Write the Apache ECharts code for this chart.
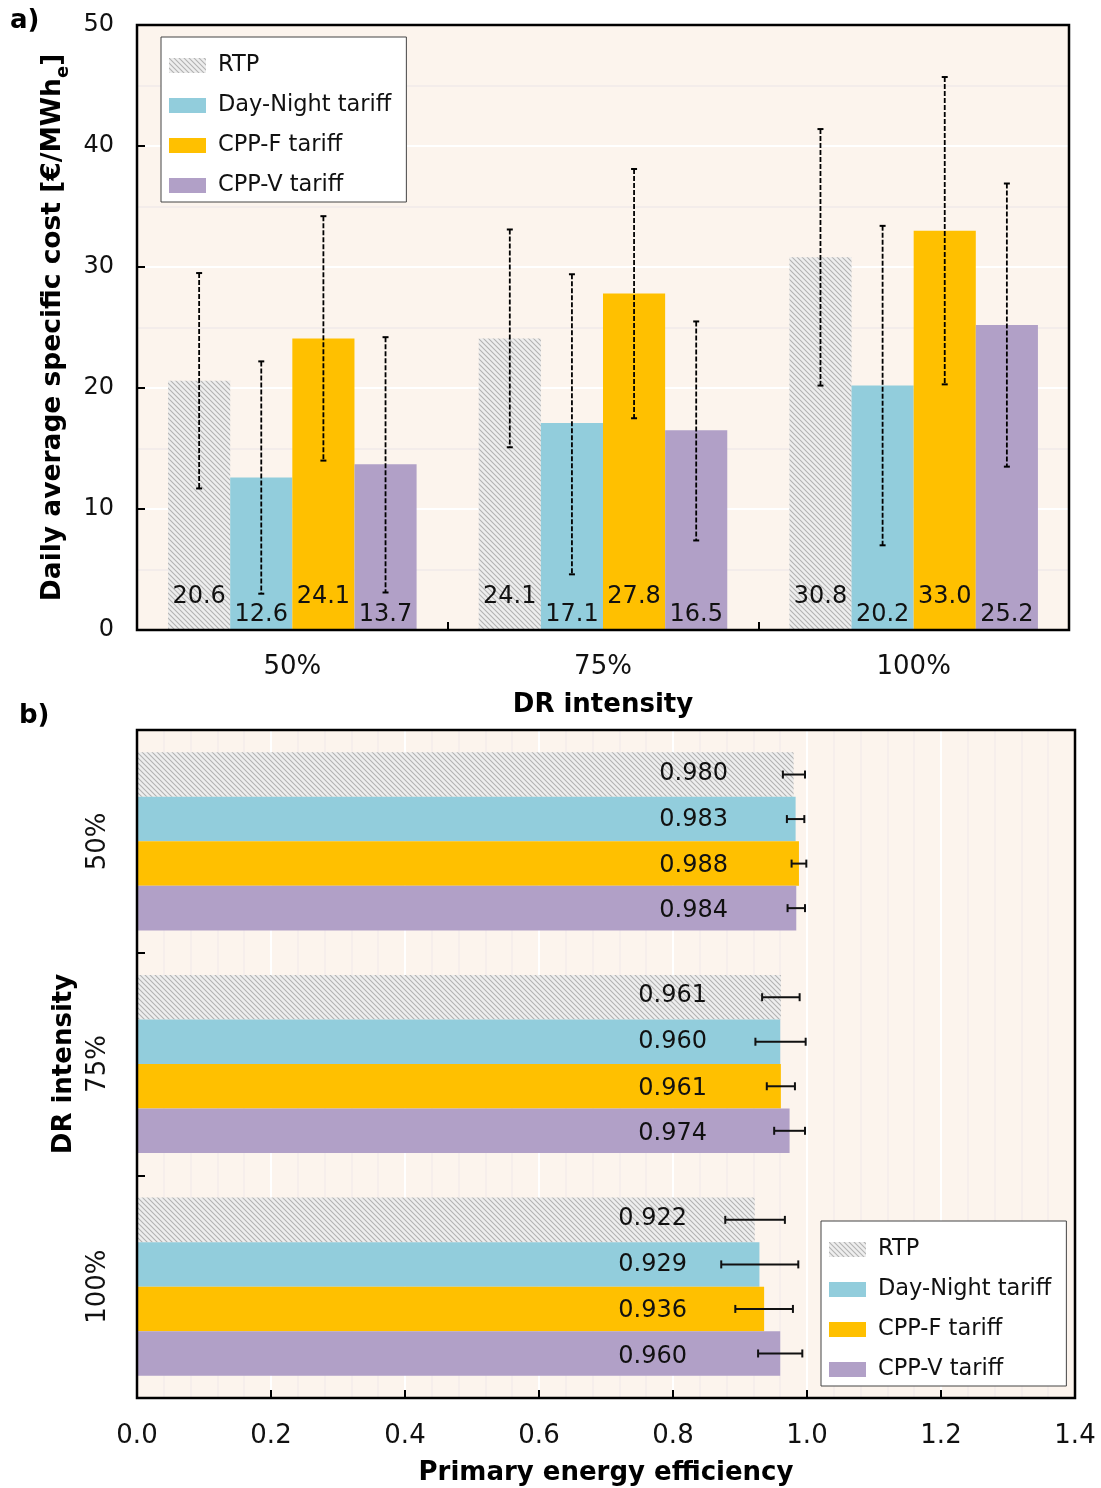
<!DOCTYPE html>
<html>
<head>
<meta charset="utf-8">
<script src="https://cdn.jsdelivr.net/npm/echarts@6/dist/echarts.min.js"></script>
<style>
html, body { margin: 0; padding: 0; background: #ffffff; }
#chart { width: 1101px; height: 1488px; }
</style>
</head>
<body>
<div id="chart"></div>
<script>
// ---- data ----
const tariffs = ['RTP', 'Day-Night tariff', 'CPP-F tariff', 'CPP-V tariff'];
const drLevels = ['50%', '75%', '100%'];

// a) daily average specific cost [€/MWh_e]
const costRTP  = [20.6, 24.1, 30.8];
const costDN   = [12.6, 17.1, 20.2];
const costCPPF = [24.1, 27.8, 33.0];
const costCPPV = [13.7, 16.5, 25.2];
const costLowRTP  = [11.7, 15.1, 20.2];
const costHighRTP = [29.5, 33.1, 41.4];
const costLowDN   = [3.0, 4.6, 7.0];
const costHighDN  = [22.2, 29.4, 33.4];
const costLowCPPF  = [14.0, 17.5, 20.3];
const costHighCPPF = [34.2, 38.1, 45.7];
const costLowCPPV  = [3.1, 7.4, 13.5];
const costHighCPPV = [24.2, 25.5, 36.9];
const costTicks = [0, 10, 20, 30, 40, 50];

// b) primary energy efficiency
const effRTP  = [0.980, 0.961, 0.922];
const effDN   = [0.983, 0.960, 0.929];
const effCPPF = [0.988, 0.961, 0.936];
const effCPPV = [0.984, 0.974, 0.960];
const effLowRTP  = [0.964, 0.933, 0.878];
const effHighRTP = [0.997, 0.989, 0.967];
const effLowDN   = [0.970, 0.923, 0.872];
const effHighDN  = [0.996, 0.998, 0.987];
const effLowCPPF  = [0.977, 0.940, 0.893];
const effHighCPPF = [0.999, 0.982, 0.979];
const effLowCPPV  = [0.971, 0.951, 0.927];
const effHighCPPV = [0.997, 0.997, 0.993];
const effTicks = [0.0, 0.2, 0.4, 0.6, 0.8, 1.0, 1.2, 1.4];

// ---- layout & style ----
const FONT = 'DejaVu Sans';
const PLOT_BG = '#fcf4ed';
const GAP = 0.2;                       // share of a category band left empty
const PANEL_A = { x0: 137, y0: 25, x1: 1069, y1: 630 };
const PANEL_B = { x0: 137, y0: 730, x1: 1075, y1: 1398 };
// right edge of the value labels inside panel b, per DR level (px from bar base)
const EFF_LABEL_RIGHT = [591, 570, 550];
// vertical nudge of the value labels inside panel b, per tariff
const EFF_LABEL_NUDGE = [-1, 0.5, 2, 3];
// bottom distance of the value labels in panel a, per tariff
const COST_LABEL_LIFT = [21, 3, 21, 3];

function hatchPattern() {
  const c = document.createElement('canvas');
  c.width = 5; c.height = 5;
  const g = c.getContext('2d');
  g.fillStyle = '#eeeeee';
  g.fillRect(0, 0, 5, 5);
  g.strokeStyle = '#b2b2b2';
  g.lineWidth = 1.1;
  g.beginPath();
  g.moveTo(-1, -1); g.lineTo(6, 6);
  g.moveTo(-1, 4); g.lineTo(1, 6);
  g.moveTo(4, -1); g.lineTo(6, 1);
  g.stroke();
  return { image: c, repeat: 'repeat' };
}
const COLORS = [hatchPattern(), '#92cddc', '#ffc000', '#b1a0c7'];

const costVals = [costRTP, costDN, costCPPF, costCPPV];
const costLows = [costLowRTP, costLowDN, costLowCPPF, costLowCPPV];
const costHighs = [costHighRTP, costHighDN, costHighCPPF, costHighCPPV];
const effVals = [effRTP, effDN, effCPPF, effCPPV];
const effLows = [effLowRTP, effLowDN, effLowCPPF, effLowCPPV];
const effHighs = [effHighRTP, effHighDN, effHighCPPF, effHighCPPV];

function gridOf(p) {
  return { left: p.x0, top: p.y0, width: p.x1 - p.x0, height: p.y1 - p.y0,
           show: true, backgroundColor: PLOT_BG, borderWidth: 0, containLabel: false };
}

// vertical dashed error bar for tariff k in panel a
function costErrorBar(k) {
  return function (params, api) {
    const cat = api.value(0);
    const lo = api.coord([cat, api.value(1)]);
    const hi = api.coord([cat, api.value(2)]);
    const band = api.size([1, 0])[0];
    const bw = band * (1 - GAP) / 4;
    const x = lo[0] - band * (1 - GAP) / 2 + bw * (k + 0.5);
    const cap = 3;
    return {
      type: 'group',
      children: [
        { type: 'line', shape: { x1: x, y1: hi[1], x2: x, y2: lo[1] },
          style: { stroke: '#000', lineWidth: 1.8, lineDash: [5, 2] } },
        { type: 'line', shape: { x1: x - cap, y1: hi[1], x2: x + cap, y2: hi[1] },
          style: { stroke: '#000', lineWidth: 2 } },
        { type: 'line', shape: { x1: x - cap, y1: lo[1], x2: x + cap, y2: lo[1] },
          style: { stroke: '#000', lineWidth: 2 } }
      ]
    };
  };
}

// horizontal error bar for tariff k in panel b
function effErrorBar(k) {
  return function (params, api) {
    const cat = api.value(0);
    const lo = api.coord([api.value(1), cat]);
    const hi = api.coord([api.value(2), cat]);
    const band = api.size([0, 1])[1];
    const bh = band * (1 - GAP) / 4;
    const y = lo[1] - band * (1 - GAP) / 2 + bh * (k + 0.5);
    const cap = 4;
    return {
      type: 'group',
      children: [
        { type: 'line', shape: { x1: lo[0], y1: y, x2: hi[0], y2: y },
          style: { stroke: '#111', lineWidth: 2 } },
        { type: 'line', shape: { x1: lo[0], y1: y - cap, x2: lo[0], y2: y + cap },
          style: { stroke: '#111', lineWidth: 2 } },
        { type: 'line', shape: { x1: hi[0], y1: y - cap, x2: hi[0], y2: y + cap },
          style: { stroke: '#111', lineWidth: 2 } }
      ]
    };
  };
}

const series = [];
tariffs.forEach(function (name, k) {
  series.push({
    name: name, type: 'bar', xAxisIndex: 0, yAxisIndex: 0,
    barGap: 0, barCategoryGap: (GAP * 100) + '%',
    itemStyle: { color: COLORS[k] },
    label: { show: true, position: 'insideBottom', distance: COST_LABEL_LIFT[k],
             formatter: function (p) { return p.value.toFixed(1); },
             fontFamily: FONT, fontSize: 24, color: '#111' },
    data: costVals[k]
  });
});
tariffs.forEach(function (name, k) {
  series.push({
    name: name, type: 'custom', xAxisIndex: 0, yAxisIndex: 0, z: 5,
    renderItem: costErrorBar(k), silent: true,
    encode: { x: 0, y: [1, 2] },
    data: drLevels.map(function (_, i) { return [i, costLows[k][i], costHighs[k][i]]; })
  });
});
tariffs.forEach(function (name, k) {
  series.push({
    name: name, type: 'bar', xAxisIndex: 1, yAxisIndex: 1,
    barGap: 0, barCategoryGap: (GAP * 100) + '%',
    itemStyle: { color: COLORS[k] },
    data: effVals[k].map(function (v, i) {
      return { value: v, label: { position: [EFF_LABEL_RIGHT[i], '50%'] } };
    }),
    label: { show: true, align: 'right', verticalAlign: 'middle', offset: [0, EFF_LABEL_NUDGE[k]],
             formatter: function (p) { return p.value.toFixed(3); },
             fontFamily: FONT, fontSize: 24, color: '#111' }
  });
});
tariffs.forEach(function (name, k) {
  series.push({
    name: name, type: 'custom', xAxisIndex: 1, yAxisIndex: 1, z: 5,
    renderItem: effErrorBar(k), silent: true,
    encode: { y: 0, x: [1, 2] },
    data: drLevels.map(function (_, i) { return [i, effLows[k][i], effHighs[k][i]]; })
  });
});

function legendAt(left, top) {
  return {
    left: left, top: top, orient: 'vertical',
    data: tariffs.map(function (n) { return { name: n, icon: 'rect' }; }),
    itemWidth: 37, itemHeight: 15, itemGap: 17,
    padding: [17, 15, 5, 8],
    backgroundColor: '#ffffff', borderColor: '#444', borderWidth: 1, borderRadius: 0,
    selectedMode: false,
    textStyle: { fontFamily: FONT, fontSize: 22.5, color: '#111', padding: [0, 0, 0, 7] }
  };
}

function frame(p) {
  return { type: 'rect', z: 100, silent: true,
           shape: { x: p.x0, y: p.y0, width: p.x1 - p.x0, height: p.y1 - p.y0 },
           style: { fill: 'none', stroke: '#000', lineWidth: 2.5 } };
}

const axisLabelStyle = { fontFamily: FONT, fontSize: 24, color: '#111' };
const catLabelStyle = { fontFamily: FONT, fontSize: 26, color: '#111' };
const axisNameStyle = { fontFamily: FONT, fontSize: 26, fontWeight: 'bold', color: '#000' };
const tickStyle = { show: true, inside: true, length: 8, lineStyle: { color: '#000', width: 2 } };

const option = {
  animation: false,
  backgroundColor: '#ffffff',
  textStyle: { fontFamily: FONT },
  grid: [gridOf(PANEL_A), gridOf(PANEL_B)],
  legend: [legendAt(161, 37), legendAt(821, 1221)],
  xAxis: [
    {
      type: 'category', gridIndex: 0, data: drLevels,
      axisLine: { show: true, lineStyle: { color: '#000', width: 2 } },
      axisTick: tickStyle,
      axisLabel: Object.assign({ margin: 24 }, catLabelStyle),
      splitLine: { show: false },
      name: 'DR intensity', nameLocation: 'middle', nameGap: 62, nameTextStyle: axisNameStyle
    },
    {
      type: 'value', gridIndex: 1,
      min: effTicks[0], max: effTicks[effTicks.length - 1], interval: 0.2,
      axisLine: { show: true, lineStyle: { color: '#000', width: 2 } },
      axisTick: tickStyle,
      axisLabel: Object.assign({ margin: 25, formatter: function (v) { return v.toFixed(1); } }, catLabelStyle),
      splitLine: { show: true, lineStyle: { color: '#ffffff', width: 2 } },
      minorTick: { show: false, splitNumber: 5 },
      minorSplitLine: { show: true, lineStyle: { color: '#f3ecea', width: 1.5 } },
      name: 'Primary energy efficiency', nameLocation: 'middle', nameGap: 62, nameTextStyle: axisNameStyle
    }
  ],
  yAxis: [
    {
      type: 'value', gridIndex: 0,
      min: costTicks[0], max: costTicks[costTicks.length - 1], interval: 10,
      axisLine: { show: true, lineStyle: { color: '#000', width: 2 } },
      axisTick: tickStyle,
      axisLabel: Object.assign({ margin: 23 }, axisLabelStyle),
      splitLine: { show: true, lineStyle: { color: '#ffffff', width: 2 } },
      minorTick: { show: false, splitNumber: 2 },
      minorSplitLine: { show: true, lineStyle: { color: '#f3ecea', width: 2 } },
      name: 'Daily average specific cost [€/MWh{sub|e}]',
      nameLocation: 'middle', nameGap: 48,
      nameTextStyle: Object.assign({}, axisNameStyle, {
        fontSize: 26.5, lineHeight: 34,
        rich: { sub: { fontFamily: FONT, fontSize: 18, fontWeight: 'bold', color: '#000',
                       lineHeight: 38, verticalAlign: 'bottom' } }
      })
    },
    {
      type: 'category', gridIndex: 1, data: drLevels, inverse: true,
      axisLine: { show: true, lineStyle: { color: '#000', width: 2 } },
      axisTick: tickStyle,
      axisLabel: Object.assign({ margin: 26, rotate: 90 }, catLabelStyle),
      splitLine: { show: false },
      name: 'DR intensity', nameLocation: 'middle', nameGap: 58, nameTextStyle: axisNameStyle
    }
  ],
  graphic: [
    frame(PANEL_A), frame(PANEL_B),
    { type: 'text', left: 10, top: 8, style: { text: 'a)', fontFamily: FONT, fontSize: 26, fontWeight: 'bold', fill: '#000' } },
    { type: 'text', left: 19, top: 703, style: { text: 'b)', fontFamily: FONT, fontSize: 26, fontWeight: 'bold', fill: '#000' } }
  ],
  series: series
};

const chart = echarts.init(document.getElementById('chart'), null, { renderer: 'canvas' });
chart.setOption(option);
</script>
</body>
</html>
